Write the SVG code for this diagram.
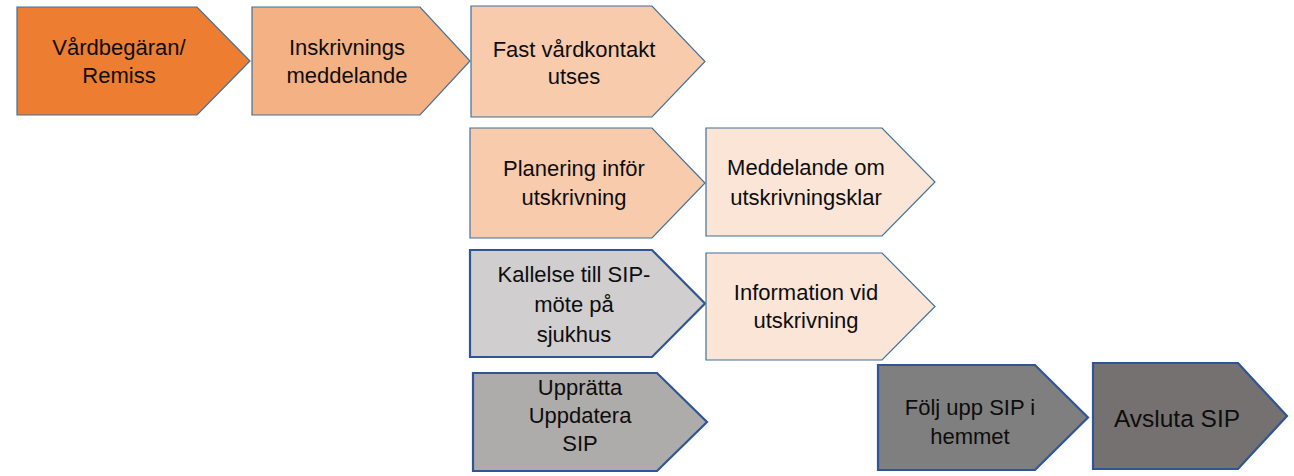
<svg xmlns="http://www.w3.org/2000/svg" width="1294" height="476" viewBox="0 0 1294 476">
<style>
.n{stroke:#41719C;stroke-width:1.2;stroke-linejoin:miter}
.g{stroke:#2F5597;stroke-width:2.2;stroke-linejoin:miter}
text{font-family:"Liberation Sans",Arial,sans-serif;font-size:22px;fill:#0d0d0d;text-anchor:middle}
.big{font-size:24.5px}
</style>
<rect width="1294" height="476" fill="#ffffff"/>
<g id="connectors"/>
<g id="n1">
<polygon class="n" fill="#ED7D31" points="17,7 197,7 250,61 197,115 17,115"/>
<text x="119" y="55">Vårdbegäran/</text>
<text x="119" y="83">Remiss</text>
</g>
<g id="n2">
<polygon class="n" fill="#F4B183" points="252,7 420,7 470,61 420,115 252,115"/>
<text x="347" y="55">Inskrivnings</text>
<text x="347" y="83">meddelande</text>
</g>
<g id="n3">
<polygon class="n" fill="#F8CBAD" points="471,6 652,6 705,61.5 652,117 471,117"/>
<text x="574" y="57">Fast vårdkontakt</text>
<text x="574" y="84">utses</text>
</g>
<g id="n4">
<polygon class="n" fill="#F8CBAD" points="470,128 652,128 705,183 652,238 470,238"/>
<text x="574" y="176">Planering inför</text>
<text x="574" y="205">utskrivning</text>
</g>
<g id="n5">
<polygon class="n" fill="#FBE5D6" points="706,128 882,128 935,182 882,236 706,236"/>
<text x="806" y="175">Meddelande om</text>
<text x="806" y="205">utskrivningsklar</text>
</g>
<g id="n6">
<polygon class="g" fill="#D0CECE" points="470,250 652,250 705,303.5 652,357 470,357"/>
<text x="574" y="282">Kallelse till SIP-</text>
<text x="574" y="312">möte på</text>
<text x="574" y="342">sjukhus</text>
</g>
<g id="n7">
<polygon class="n" fill="#FBE5D6" points="706,253 882,253 935,306.5 882,360 706,360"/>
<text x="806" y="300">Information vid</text>
<text x="806" y="328">utskrivning</text>
</g>
<g id="n8">
<polygon class="g" fill="#AEABAB" points="473,373 657,373 707,422 657,471 473,471"/>
<text x="580" y="395">Upprätta</text>
<text x="580" y="423">Uppdatera</text>
<text x="580" y="451">SIP</text>
</g>
<g id="n9">
<polygon class="g" fill="#7F7F7F" points="878,365 1035,365 1088,417.5 1035,470 878,470"/>
<text x="970" y="415">Följ upp SIP i</text>
<text x="970" y="444">hemmet</text>
</g>
<g id="n10">
<polygon class="g" fill="#757171" points="1093,363 1238,363 1287,416 1238,469 1093,469"/>
<text class="big" x="1177" y="427">Avsluta SIP</text>
</g>
</svg>
